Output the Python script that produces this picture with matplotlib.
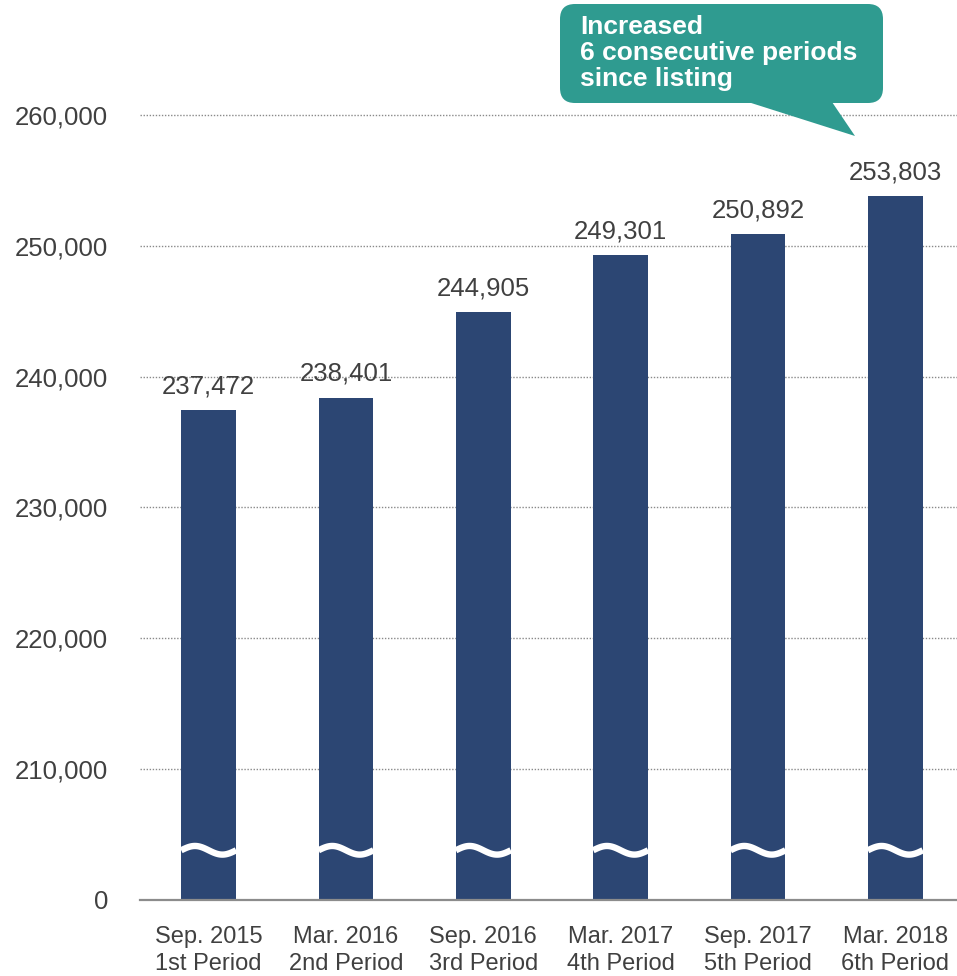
import numpy as np
import matplotlib
matplotlib.use("Agg")
from matplotlib import pyplot as plt
from matplotlib.patches import FancyBboxPatch, Polygon

plt.rcParams['font.family'] = ['Liberation Sans', 'DejaVu Sans']

# data
periods = ['Sep. 2015\n1st Period', 'Mar. 2016\n2nd Period', 'Sep. 2016\n3rd Period',
           'Mar. 2017\n4th Period', 'Sep. 2017\n5th Period', 'Mar. 2018\n6th Period']
values = [237472, 238401, 244905, 249301, 250892, 253803]
ytick_vals = [200000, 210000, 220000, 230000, 240000, 250000, 260000]
ytick_labels = ['0', '210,000', '220,000', '230,000', '240,000', '250,000', '260,000']
callout_text = 'Increased\n6 consecutive periods\nsince listing'

base = 200000          # broken axis: "0" is drawn where 200,000 would be
break_at = 203800      # height of the wavy break on each bar

bar_color = '#2C4673'
text_color = '#404040'
W, H = 957, 976

fig = plt.figure(figsize=(W / 100, H / 100), dpi=100)
ax = fig.add_axes([140 / W, 76 / H, 824 / W, 900 / H])

x = np.arange(len(values))
ax.bar(x, np.array(values) - base, bottom=base, width=0.4, color=bar_color, zorder=2)

# value labels
for xi, v in zip(x, values):
    ax.annotate(f'{v:,}', (xi, v), xytext=(0, 12), textcoords='offset points',
                ha='center', va='baseline', fontsize=18.5, color=text_color)

# wavy break marks
for xi in x:
    xs = np.linspace(xi - 0.2, xi + 0.2, 60)
    ys = break_at + 330 * np.sin((xs - (xi - 0.2)) / 0.4 * 2 * np.pi)
    ax.plot(xs, ys, color='white', lw=4.6, zorder=3, solid_capstyle='butt')

ax.set_xlim(-0.5, 5.5)
ax.set_ylim(base, base + 60000 * 900 / 785)
ax.set_yticks(ytick_vals)
ax.set_yticklabels(ytick_labels)
ax.set_xticks(x)
ax.set_xticklabels(periods, linespacing=1.25)
ax.tick_params(axis='y', length=0, pad=23, labelsize=18.5, labelcolor=text_color)
ax.tick_params(axis='x', length=0, pad=19, labelsize=17, labelcolor=text_color)

for yv in ytick_vals[1:]:
    ax.axhline(yv, color='#8a8a8a', lw=1, ls=(0, (1, 1.2)), zorder=1)

for s in ['left', 'right', 'top']:
    ax.spines[s].set_visible(False)
ax.spines['bottom'].set_color('#8c8c8c')
ax.spines['bottom'].set_linewidth(1.6)

# callout bubble in pixel space
ov = fig.add_axes([0, 0, 1, 1], facecolor='none')
ov.set_xlim(0, W)
ov.set_ylim(H, 0)
ov.axis('off')
teal = '#2F9B90'
ov.add_patch(FancyBboxPatch((560, 4), 323, 99, boxstyle='round,pad=0,rounding_size=15',
                            fc=teal, ec='none'))
ov.add_patch(Polygon([(748, 102), (832, 102), (855, 136)], closed=True, fc=teal, ec='none'))
ov.text(580, 53, callout_text, ha='left', va='center', fontsize=19, fontweight='bold',
        color='white', linespacing=1.12)

fig.savefig('out.png', dpi=100)
